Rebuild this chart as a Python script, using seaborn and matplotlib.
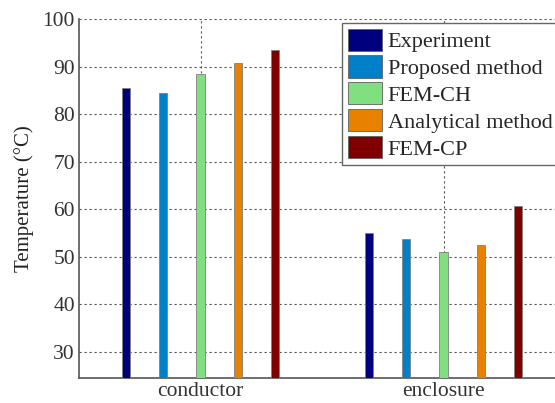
import matplotlib
matplotlib.use("Agg")
import matplotlib.pyplot as plt
import seaborn as sns
import pandas as pd

categories = ["conductor", "enclosure"]
methods = ["Experiment", "Proposed method", "FEM-CH", "Analytical method", "FEM-CP"]
conductor_vals = [85.5, 84.5, 88.5, 90.8, 93.5]
enclosure_vals = [54.9, 53.7, 51.1, 52.4, 60.6]
colors = ["#00007f", "#0080c8", "#80e080", "#e88000", "#800000"]
yticks = [30, 40, 50, 60, 70, 80, 90, 100]

rows = []
for cat, vals in zip(categories, [conductor_vals, enclosure_vals]):
    for m, v in zip(methods, vals):
        rows.append({"location": cat, "method": m, "temp": v})
df = pd.DataFrame(rows)

sns.set_style("white")
plt.rcParams["font.family"] = ["Liberation Serif", "DejaVu Serif"]

fig = plt.figure(figsize=(5.55, 4.03), dpi=100)
ax = fig.add_axes([79 / 555, 1 - 378 / 403, (565 - 79) / 555, (378 - 19) / 403])

sns.barplot(data=df, x="location", y="temp", hue="method", hue_order=methods,
            palette=colors, saturation=1, width=0.77, gap=0.78, ax=ax,
            edgecolor="#808080", linewidth=0.6, zorder=3)

ax.set_xlim(-0.5, 1.5)
ax.set_ylim(24.5, 100)
ax.set_yticks(yticks)
ax.set_xlabel("")
ax.set_ylabel("Temperature (°C)", fontsize=15, color="#222222", labelpad=6)
ax.tick_params(axis="both", labelsize=15.5, colors="#333333", length=0, pad=3)
ax.grid(True, linestyle=(0, (2, 2.5)), color="#555555", linewidth=0.8, zorder=0)
ax.set_axisbelow(True)
for side in ["top", "right"]:
    ax.spines[side].set_visible(False)
for side in ["left", "bottom"]:
    ax.spines[side].set_color("#555555")
    ax.spines[side].set_linewidth(1.2)

handles, labels = ax.get_legend_handles_labels()
ax.legend(handles, labels, loc="upper left",
          bbox_to_anchor=(342 / 555, 1 - 23 / 403), bbox_transform=fig.transFigure,
          fontsize=16, frameon=True, fancybox=False, edgecolor="#666666",
          handlelength=1.55, handleheight=1.15, handletextpad=0.25,
          labelspacing=0.15, borderpad=0.25, borderaxespad=0)
leg = ax.get_legend()
leg.get_frame().set_linewidth(1.0)
leg.get_frame().set_alpha(1)
for p in leg.get_patches():
    p.set_edgecolor("#606060")

fig.savefig("out.png", dpi=100)
